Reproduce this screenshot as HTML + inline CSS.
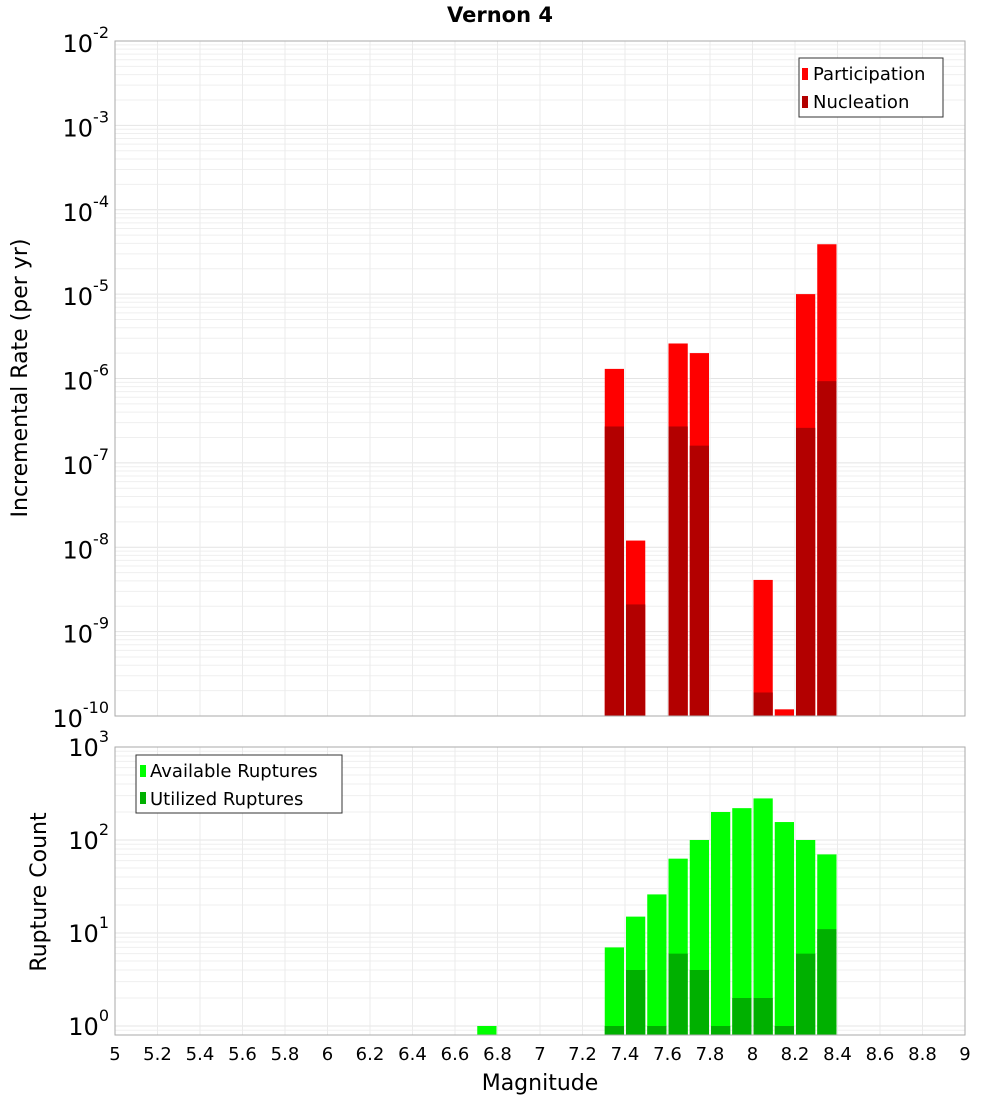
<!DOCTYPE html>
<html><head><meta charset="utf-8"><style>
body{margin:0;background:#fff;font-family:"DejaVu Sans","Liberation Sans",sans-serif;}
</style></head><body>
<svg id="c" width="1000" height="1100" xmlns="http://www.w3.org/2000/svg" font-family="DejaVu Sans, Liberation Sans, sans-serif"></svg>
<script>
const mags = [6.75,7.35,7.45,7.55,7.65,7.75,7.85,7.95,8.05,8.15,8.25,8.35];
const participation = [0,1.3e-6,1.2e-8,0,2.6e-6,2.0e-6,0,0,4.1e-9,1.2e-10,1.0e-5,3.9e-5];
const nucleation = [0,2.7e-7,2.1e-9,0,2.7e-7,1.6e-7,0,0,1.9e-10,0,2.6e-7,9.3e-7];
const available = [1,7,15,26,63,100,200,220,280,156,100,70];
const utilized = [0,1,4,1,6,4,1,2,2,1,6,11];
const xTicks = ["5","5.2","5.4","5.6","5.8","6","6.2","6.4","6.6","6.8","7","7.2","7.4","7.6","7.8","8","8.2","8.4","8.6","8.8","9"];

const svg=document.getElementById('c');const NS='http://www.w3.org/2000/svg';
function el(t,a,p){const e=document.createElementNS(NS,t);for(const k in a)e.setAttribute(k,a[k]);(p||svg).appendChild(e);return e;}
const X0=115,X1=965;
const x=m=>X0+(m-5)/4*(X1-X0);
const yTop=v=>41+(-2-Math.log10(v))*84.375;
const yBot=v=>747+(3-Math.log10(v))*93;
function plot(top,bottom,minExp,maxExp,yf,name){
  const g=el('g',{});
  for(let e=minExp-1;e<maxExp;e++)for(let k=1;k<10;k++){const yy=yf(k*Math.pow(10,e));if(yy<top-0.5||yy>bottom+0.5)continue;
    el('line',{x1:X0,x2:X1,y1:yy,y2:yy,stroke:k==1?'#e4e4e4':'#efefef','stroke-width':1},g);}
  for(let i=0;i<xTicks.length;i++){const xx=x(+xTicks[i]);el('line',{x1:xx,x2:xx,y1:top,y2:bottom,stroke:'#ebebeb'},g);}
  return g;
}
// top plot
plot(41,716,-10,-2,yTop,'top');
for(let i=0;i<mags.length;i++){
  const l=x(mags[i]-0.05)+1,w=x(0.1+5)-X0-2;
  if(participation[i]>0){const r=el('rect',{x:l,y:yTop(participation[i]),width:w,height:716-yTop(participation[i]),fill:'#ff0000'});}
  if(nucleation[i]>0){const r=el('rect',{x:l,y:yTop(nucleation[i]),width:w,height:716-yTop(nucleation[i]),fill:'#b30000'});}
}
el('rect',{x:X0,y:41,width:X1-X0,height:675,fill:'none',stroke:'#aaa'});
for(let e=-10;e<=-2;e++){const yy=yTop(Math.pow(10,e));const t=el('text',{x:109,y:yy+11,'font-size':24,'text-anchor':'end'});t.innerHTML='10<tspan dy="-14" font-size="16">'+e+'</tspan>';}
// bottom
plot(747,1035,-1,3,yBot,'bottom');
for(let i=0;i<mags.length;i++){
  const l=x(mags[i]-0.05)+1,w=x(0.1+5)-X0-2;
  if(available[i]>0){const r=el('rect',{x:l,y:yBot(available[i]),width:w,height:1035-yBot(available[i]),fill:'#00ff00'});}
  if(utilized[i]>0){const r=el('rect',{x:l,y:yBot(utilized[i]),width:w,height:1035-yBot(utilized[i]),fill:'#00b000'});}
}
el('rect',{x:X0,y:747,width:X1-X0,height:288,fill:'none',stroke:'#aaa'});
for(let e=0;e<=3;e++){const yy=yBot(Math.pow(10,e));const t=el('text',{x:109,y:yy+9,'font-size':24,'text-anchor':'end'});t.innerHTML='10<tspan dy="-14" font-size="16">'+e+'</tspan>';}
for(let i=0;i<xTicks.length;i++){const t=el('text',{x:x(+xTicks[i]),y:1060,'font-size':18,'text-anchor':'middle'});t.textContent=xTicks[i];}
</script>
<svg width="1000" height="1100" style="position:absolute;left:0;top:0" font-family="DejaVu Sans, Liberation Sans, sans-serif">
<text x="500" y="22" font-size="21" font-weight="bold" text-anchor="middle">Vernon 4</text>
<text transform="translate(27,378) rotate(-90)" font-size="22" text-anchor="middle">Incremental Rate (per yr)</text>
<text transform="translate(46,892) rotate(-90)" font-size="22" text-anchor="middle">Rupture Count</text>
<text x="540" y="1090" font-size="22" text-anchor="middle">Magnitude</text>
<g>
<rect x="799" y="58" width="144" height="59" fill="#fff" stroke="#333"/>
<rect x="802" y="68" width="6" height="12" fill="#ff0000"/><text x="813" y="80" font-size="18">Participation</text>
<rect x="802" y="96" width="6" height="12" fill="#b30000"/><text x="813" y="108" font-size="18">Nucleation</text>
</g>
<g>
<rect x="136" y="755" width="206" height="58" fill="#fff" stroke="#333"/>
<rect x="140" y="765" width="6" height="12" fill="#00ff00"/><text x="150" y="777" font-size="18">Available Ruptures</text>
<rect x="140" y="792" width="6" height="12" fill="#00b000"/><text x="150" y="805" font-size="18">Utilized Ruptures</text>
</g>
</svg>
</body></html>
